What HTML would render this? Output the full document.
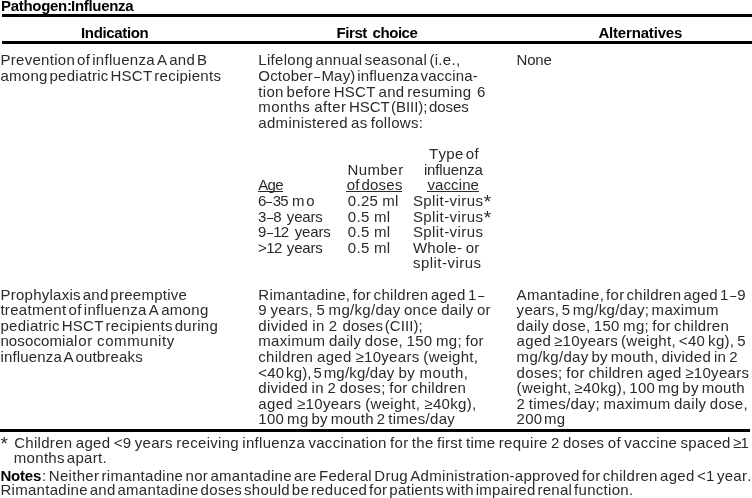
<!DOCTYPE html>
<html lang="en">
<head>
<meta charset="utf-8">
<title>Pathogen: Influenza</title>
<style>
html,body{margin:0;padding:0;background:#fff;}
body{width:752px;height:498px;position:relative;overflow:hidden;font-family:"Liberation Sans",sans-serif;font-size:15px;color:#2a2a2a;}
table{border-collapse:collapse;border-spacing:0;border:0;margin:0;padding:0;}
caption,th,td,p{margin:0;padding:0;border:0;font-weight:normal;text-align:left;}
.t{position:absolute;white-space:pre;line-height:1;font-kerning:none;}
.d{display:inline-block;transform:scaleX(.72);}
.r{position:absolute;background:#000;height:3px;}
.u{position:absolute;background:#2a2a2a;height:1px;}
b{font-weight:bold;color:#000;}
</style>
</head>
<body>
<div class="r" style="left:2px;top:14px;width:750px"></div>
<div class="r" style="left:2px;top:41px;width:750px"></div>
<div class="r" style="left:0px;top:429px;width:750px"></div>
<table>
<caption>
<span class="t" style="left:1.00px;top:-1.70px;letter-spacing:-0.300px;word-spacing:-4.46px;"><b>Pathogen: Influenza</b></span>
</caption>
<thead>
<tr>
<th><span class="t" style="left:81.00px;top:25.30px;letter-spacing:-0.352px;"><b>Indication</b></span></th>
<th><span class="t" style="left:336.60px;top:25.30px;letter-spacing:-0.450px;word-spacing:2.00px;"><b>First choice</b></span></th>
<th><span class="t" style="left:598.40px;top:25.30px;letter-spacing:-0.175px;"><b>Alternatives</b></span></th>
</tr>
</thead>
<tbody>
<tr>
<td>
<span class="t" style="left:0.40px;top:52.30px;letter-spacing:0.300px;word-spacing:-2.49px;">Prevention of influenza A and B</span>
<span class="t" style="left:0.40px;top:68.30px;letter-spacing:0.274px;word-spacing:-2.60px;">among pediatric HSCT recipients</span>
</td>
<td>
<span class="t" style="left:258.30px;top:52.30px;letter-spacing:0.300px;word-spacing:-2.18px;">Lifelong annual seasonal (i.e.,</span>
<span class="t" style="left:258.30px;top:68.30px;letter-spacing:0.178px;word-spacing:-2.60px;">October<span class="d">–</span>May) influenza vaccina-</span>
<span class="t" style="left:258.30px;top:84.00px;letter-spacing:0.300px;word-spacing:-1.65px;">tion before HSCT and resuming  6</span>
<span class="t" style="left:258.30px;top:99.30px;letter-spacing:0.439px;word-spacing:-0.50px;">months after</span> <span class="t" style="left:349.00px;top:99.30px;letter-spacing:-0.056px;word-spacing:-2.60px;">HSCT (BIII); doses</span>
<span class="t" style="left:258.30px;top:115.30px;letter-spacing:0.300px;word-spacing:-1.20px;">administered as follows:</span>
<table>
<thead>
<tr>
<th><span class="u" style="left:258px;top:191px;width:25px"></span><span class="t" style="left:258.30px;top:177.30px;letter-spacing:-0.724px;">Age</span></th>
<th>
<span class="t" style="left:347.40px;top:162.30px;letter-spacing:0.489px;">Number</span>
<span class="u" style="left:346px;top:191px;width:56px"></span><span class="t" style="left:346.70px;top:177.30px;letter-spacing:0.228px;word-spacing:-2.60px;">of doses</span>
</th>
<th>
<span class="t" style="left:429.10px;top:146.30px;letter-spacing:0.300px;word-spacing:-2.33px;">Type of</span>
<span class="t" style="left:423.90px;top:162.30px;letter-spacing:-0.125px;">influenza</span>
<span class="u" style="left:427px;top:191px;width:52px"></span><span class="t" style="left:427.40px;top:177.30px;letter-spacing:0.114px;">vaccine</span>
</th>
</tr>
</thead>
<tbody>
<tr><td><span class="t" style="left:258.00px;top:193.30px;letter-spacing:-0.942px;">6<span class="d">–</span>35</span> <span class="t" style="left:291.90px;top:193.30px;letter-spacing:1.905px;">mo</span></td> <td><span class="t" style="left:347.80px;top:193.30px;letter-spacing:0.324px;word-spacing:-0.50px;">0.25 ml</span></td> <td><span class="t" style="left:412.90px;top:193.30px;letter-spacing:0.416px;">Split-virus</span><span class="t" style="left:483.80px;top:192.42px;font-size:19px;">*</span></td></tr>
<tr><td><span class="t" style="left:258.00px;top:209.00px;letter-spacing:-0.692px;">3<span class="d">–</span>8</span> <span class="t" style="left:286.80px;top:209.00px;letter-spacing:-0.170px;">years</span></td> <td><span class="t" style="left:347.80px;top:209.00px;letter-spacing:0.397px;word-spacing:-0.50px;">0.5 ml</span></td> <td><span class="t" style="left:412.90px;top:209.00px;letter-spacing:0.416px;">Split-virus</span><span class="t" style="left:483.80px;top:208.12px;font-size:19px;">*</span></td></tr>
<tr><td><span class="t" style="left:258.00px;top:224.30px;letter-spacing:-0.742px;">9<span class="d">–</span>12</span> <span class="t" style="left:294.70px;top:224.30px;letter-spacing:-0.145px;">years</span></td> <td><span class="t" style="left:347.80px;top:224.30px;letter-spacing:0.397px;word-spacing:-0.50px;">0.5 ml</span></td> <td><span class="t" style="left:412.90px;top:224.30px;letter-spacing:0.416px;">Split-virus</span></td></tr>
<tr><td><span class="t" style="left:258.00px;top:240.30px;letter-spacing:-0.551px;">&gt;12</span> <span class="t" style="left:286.80px;top:240.30px;letter-spacing:-0.170px;">years</span></td> <td><span class="t" style="left:347.80px;top:240.30px;letter-spacing:0.397px;word-spacing:-0.50px;">0.5 ml</span></td> <td><span class="t" style="left:412.90px;top:240.30px;letter-spacing:0.300px;word-spacing:-1.02px;">Whole- or</span>
<span class="t" style="left:412.90px;top:255.30px;letter-spacing:0.486px;">split-virus</span></td></tr>
</tbody>
</table>
</td>
<td><span class="t" style="left:516.60px;top:52.30px;letter-spacing:-0.239px;">None</span></td>
</tr>
<tr>
<td>
<span class="t" style="left:0.40px;top:287.30px;letter-spacing:0.266px;word-spacing:-2.60px;">Prophylaxis and preemptive</span>
<span class="t" style="left:0.40px;top:302.30px;letter-spacing:0.300px;word-spacing:-2.33px;">treatment of influenza A among</span>
<span class="t" style="left:0.40px;top:318.30px;letter-spacing:0.300px;word-spacing:-2.59px;">pediatric HSCT recipients during</span>
<span class="t" style="left:0.40px;top:333.30px;letter-spacing:0.118px;">nosocomial</span> <span class="t" style="left:78.30px;top:333.30px;letter-spacing:0.589px;word-spacing:-0.50px;">or community</span>
<span class="t" style="left:0.40px;top:349.30px;letter-spacing:0.162px;word-spacing:-2.60px;">influenza A outbreaks</span>
</td>
<td>
<span class="t" style="left:258.30px;top:287.30px;letter-spacing:0.300px;word-spacing:-2.02px;">Rimantadine, for children aged 1<span class="d">–</span></span>
<span class="t" style="left:258.30px;top:302.30px;letter-spacing:0.300px;word-spacing:-1.01px;">9 years, 5 mg/kg/day once daily or</span>
<span class="t" style="left:258.30px;top:318.30px;letter-spacing:0.351px;word-spacing:-0.50px;">divided in 2</span> <span class="t" style="left:342.50px;top:318.30px;letter-spacing:0.098px;word-spacing:-2.60px;">doses (CIII);</span>
<span class="t" style="left:258.30px;top:333.30px;letter-spacing:0.300px;word-spacing:-0.93px;">maximum daily dose, 150 mg; for</span>
<span class="t" style="left:258.30px;top:349.30px;letter-spacing:0.300px;word-spacing:-0.62px;">children aged ≥10years (weight,</span>
<span class="t" style="left:258.30px;top:365.30px;letter-spacing:0.174px;word-spacing:-2.60px;">&lt;40 kg), 5 mg/kg/day</span> <span class="t" style="left:398.50px;top:365.30px;letter-spacing:0.513px;word-spacing:-0.50px;">by mouth,</span>
<span class="t" style="left:258.30px;top:380.30px;letter-spacing:0.300px;word-spacing:-0.87px;">divided in 2 doses; for children</span>
<span class="t" style="left:258.30px;top:396.30px;letter-spacing:0.329px;word-spacing:-0.50px;">aged ≥10years (weight, ≥40kg),</span>
<span class="t" style="left:258.30px;top:411.30px;letter-spacing:0.300px;word-spacing:-1.61px;">100 mg by mouth 2 times/day</span>
</td>
<td>
<span class="t" style="left:516.60px;top:287.30px;letter-spacing:0.300px;word-spacing:-2.49px;">Amantadine, for children aged 1<span class="d">–</span>9</span>
<span class="t" style="left:516.60px;top:302.30px;letter-spacing:0.300px;word-spacing:-2.02px;">years, 5 mg/kg/day; maximum</span>
<span class="t" style="left:516.60px;top:318.30px;letter-spacing:0.300px;word-spacing:-1.12px;">daily dose, 150 mg; for children</span>
<span class="t" style="left:516.60px;top:333.30px;letter-spacing:0.300px;word-spacing:-1.55px;">aged ≥10years (weight, &lt;40 kg), 5</span>
<span class="t" style="left:516.60px;top:349.30px;letter-spacing:0.300px;word-spacing:-1.53px;">mg/kg/day by mouth, divided in 2</span>
<span class="t" style="left:516.60px;top:365.30px;letter-spacing:0.300px;word-spacing:-0.77px;">doses; for children aged ≥10years</span>
<span class="t" style="left:516.60px;top:380.30px;letter-spacing:0.300px;word-spacing:-1.61px;">(weight, ≥40kg), 100 mg by mouth</span>
<span class="t" style="left:516.60px;top:396.30px;letter-spacing:0.300px;word-spacing:-1.04px;">2 times/day; maximum daily dose,</span>
<span class="t" style="left:516.60px;top:411.30px;letter-spacing:0.222px;word-spacing:-2.60px;">200 mg</span>
</td>
</tr>
</tbody>
</table>
<p>
<span class="t" style="left:0.40px;top:434.42px;font-size:19px;">*</span>
<span class="t" style="left:14.20px;top:435.30px;letter-spacing:0.300px;word-spacing:-1.13px;">Children aged &lt;9 years receiving influenza vaccination for the first time require 2 doses of vaccine spaced</span> <span class="t" style="left:733.10px;top:435.30px;letter-spacing:-0.832px;">≥1</span>
<span class="t" style="left:13.80px;top:450.30px;letter-spacing:0.300px;word-spacing:-2.45px;">months apart.</span>
</p>
<p>
<span class="t" style="left:0.40px;top:468.30px;letter-spacing:-0.183px;"><b>Notes</b></span><span class="t" style="left:42.00px;top:468.30px;letter-spacing:0.300px;word-spacing:-2.16px;">: Neither rimantadine nor amantadine are Federal Drug Administration-approved for children aged &lt;1 year.</span>
<span class="t" style="left:0.40px;top:482.30px;letter-spacing:0.292px;word-spacing:-2.60px;">Rimantadine and amantadine doses should be reduced for patients with impaired renal function.</span>
</p>
</body>
</html>
